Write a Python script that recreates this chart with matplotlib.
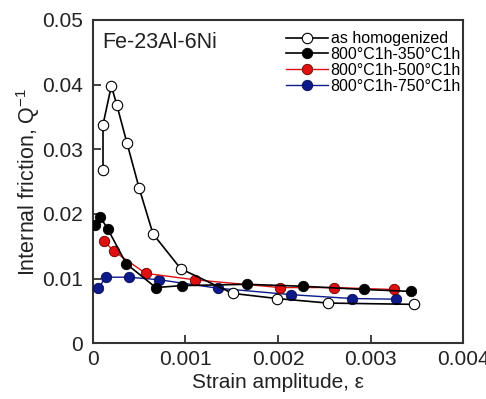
import matplotlib
matplotlib.use('Agg')
import matplotlib.pyplot as plt

plt.rcParams['font.family'] = ['Liberation Sans', 'DejaVu Sans']
plt.rcParams['mathtext.fontset'] = 'custom'
plt.rcParams['mathtext.rm'] = 'Liberation Sans'

# ── data ──────────────────────────────────────────────────────────────────────
homog_x = [0.00011, 0.00011, 0.00020, 0.00026, 0.00037, 0.00050, 0.00065,
           0.00095, 0.00151, 0.00199, 0.00254, 0.00347]
homog_y = [0.0268, 0.0338, 0.0398, 0.0368, 0.0309, 0.0240, 0.0169,
           0.0115, 0.0077, 0.0069, 0.0062, 0.0060]

t350_x = [0.00002, 0.00008, 0.00016, 0.00036, 0.00068, 0.00096, 0.00166,
          0.00227, 0.00293, 0.00344]
t350_y = [0.0183, 0.0195, 0.0177, 0.0123, 0.0086, 0.0089, 0.0091,
          0.0088, 0.0083, 0.0080]

t500_x = [0.00012, 0.00023, 0.00057, 0.00110, 0.00202, 0.00260, 0.00325]
t500_y = [0.0158, 0.0142, 0.0108, 0.0098, 0.0086, 0.0086, 0.0083]

t750_x = [0.00006, 0.00014, 0.00039, 0.00072, 0.00135, 0.00214, 0.00280, 0.00328]
t750_y = [0.0085, 0.0102, 0.0102, 0.0098, 0.0085, 0.0075, 0.0069, 0.0068]

labels = ['as homogenized', '800\u00b0C1h-350\u00b0C1h',
          '800\u00b0C1h-500\u00b0C1h', '800\u00b0C1h-750\u00b0C1h']

xticks = [0, 0.001, 0.002, 0.003, 0.004]
xtick_labels = ['0', '0.001', '0.002', '0.003', '0.004']
yticks = [0, 0.01, 0.02, 0.03, 0.04, 0.05]
ytick_labels = ['0', '0.01', '0.02', '0.03', '0.04', '0.05']

AX_C = '#333333'
TXT_C = '#222222'
RED = '#e01010'
NAVY = '#0c1a8a'

fig = plt.figure(figsize=(4.86, 3.99), dpi=100)
ax = fig.add_axes([0.191, 0.140, 0.762, 0.810])

ms = 7.5
h750, = ax.plot(t750_x, t750_y, '-o', color=NAVY, lw=1.0, ms=ms,
                mfc=NAVY, mec='#0a0a50', mew=0.6, zorder=3)
h500, = ax.plot(t500_x, t500_y, '-o', color=RED, lw=1.0, ms=ms,
                mfc=RED, mec='#600000', mew=0.6, zorder=4)
h350, = ax.plot(t350_x, t350_y, '-o', color='black', lw=1.2, ms=ms,
                mfc='black', mec='black', mew=0.6, zorder=5)
hhom, = ax.plot(homog_x, homog_y, '-o', color='black', lw=1.2, ms=ms,
                mfc='white', mec='black', mew=0.8, zorder=6)

ax.set_xlim(0, 0.004)
ax.set_ylim(0, 0.05)
ax.set_xticks(xticks)
ax.set_xticklabels(xtick_labels)
ax.set_yticks(yticks)
ax.set_yticklabels(ytick_labels)
ax.tick_params(direction='in', length=6, width=1.3, color=AX_C,
               labelsize=15, labelcolor=TXT_C)
ax.tick_params(axis='x', pad=5)
ax.tick_params(axis='y', pad=7)
for s in ax.spines.values():
    s.set_color(AX_C)
    s.set_linewidth(1.5)

ax.set_xlabel('Strain amplitude, \u03b5', fontsize=15, color=TXT_C, labelpad=3)
ax.set_ylabel('Internal friction, Q$^{\\mathregular{-1}}$', fontsize=15.5,
              color=TXT_C, labelpad=0)

ax.text(0.025, 0.93, 'Fe-23Al-6Ni', transform=ax.transAxes, fontsize=15.5,
        color=TXT_C, ha='left', va='center')

ax.legend([hhom, h350, h500, h750], labels, loc='upper right',
          bbox_to_anchor=(1.02, 0.995), frameon=False, fontsize=11.5,
          handlelength=2.6, handletextpad=0.2, labelspacing=0.05,
          borderaxespad=0.2, markerscale=1.0)

fig.savefig('out.png', dpi=100)
